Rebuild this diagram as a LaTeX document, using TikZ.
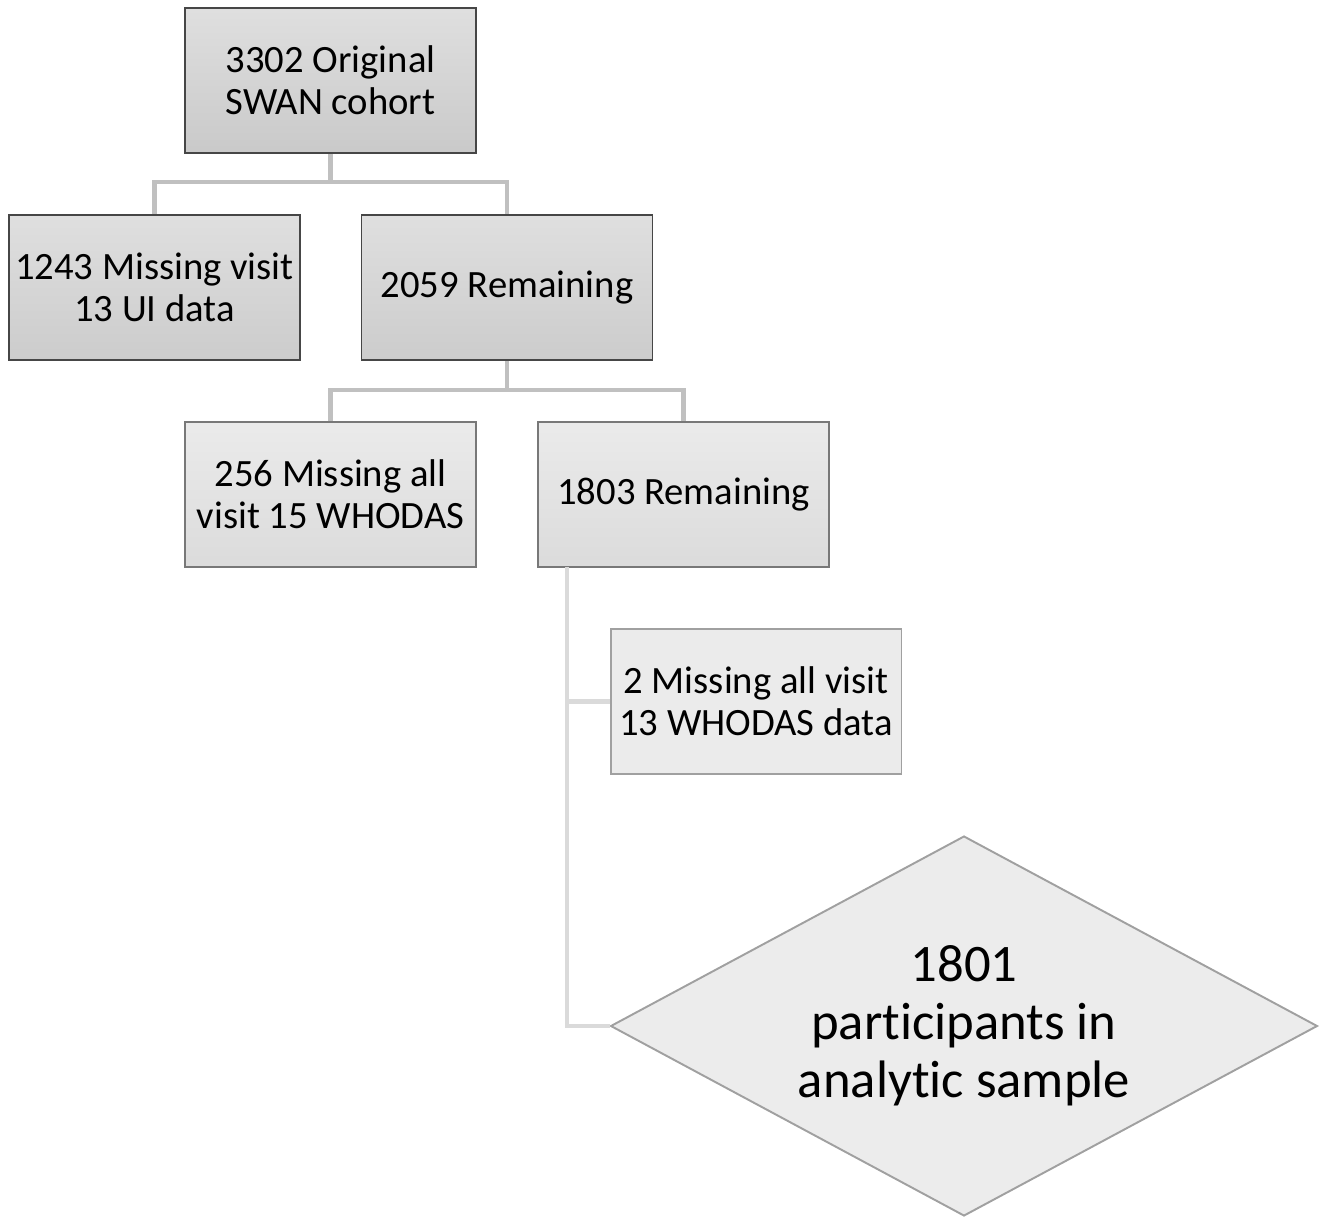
\documentclass[tikz,border=0pt]{standalone}
\usepackage{fontspec}
\setmainfont{Carlito}[Ligatures={NoCommon}]
\usetikzlibrary{shapes.geometric}

\definecolor{edgedark}{RGB}{70,70,70}
\definecolor{edgemid}{RGB}{120,120,120}
\definecolor{edgelight}{RGB}{160,160,160}
\definecolor{linkgray}{RGB}{192,192,192}
\definecolor{linklight}{RGB}{218,218,218}

\begin{document}
\begin{tikzpicture}[x=0.02cm,y=-0.02cm,
    box/.style={rectangle,draw=#1,line width=1.1pt,inner sep=0pt,
        minimum width=5.82cm,minimum height=2.9cm,align=center,
        font=\fontsize{22}{24}\selectfont},
    link/.style={draw=#1,line width=2.8pt}]
        \useasboundingbox (0,0) rectangle (1325,1217);
        % boxes
        \node[box=edgedark,top color=gray!25,bottom color=gray!42] (orig) at (330.5,80.5) {3302 Original\\SWAN cohort};
        \node[box=edgedark,top color=gray!25,bottom color=gray!40] (miss1243) at (154.5,287.5) {1243 Missing visit\\13 UI data};
        \node[box=edgedark,top color=gray!25,bottom color=gray!40] (rem2059) at (507,287.5) {2059 Remaining};
        \node[box=edgemid,top color=gray!16,bottom color=gray!28] (miss256) at (330.5,494.5) {256 Missing all\\visit 15 WHODAS};
        \node[box=edgemid,top color=gray!16,bottom color=gray!28] (rem1803) at (683.5,494.5) {1803 Remaining};
        \node[box=edgelight,fill=gray!16] (miss2) at (756,701.5) {2 Missing all visit\\13 WHODAS data};
        \node[diamond,draw=edgelight,line width=1.1pt,fill=gray!15,inner sep=0pt,
            aspect=1.86,minimum width=14.14cm,minimum height=7.6cm,align=center,
            font=\fontsize{30}{33}\selectfont] (final) at (964,1026) {1801\\participants in\\analytic sample};
        % branches
        \coordinate (split1) at (330.5,182);
        \coordinate (split2) at (507,390);
        \coordinate (stem) at (567,567);
        \draw[link=linkgray] (orig.south) -- (split1);
        \draw[link=linkgray] (miss1243.north) |- (split1) -| (rem2059.north);
        \draw[link=linkgray] (rem2059.south) -- (split2);
        \draw[link=linkgray] (miss256.north) |- (split2) -| (rem1803.north);
        \draw[link=linklight] (stem) |- (final.west);
        \draw[link=linklight] (stem |- miss2.west) -- (miss2.west);
\end{tikzpicture}
\end{document}
